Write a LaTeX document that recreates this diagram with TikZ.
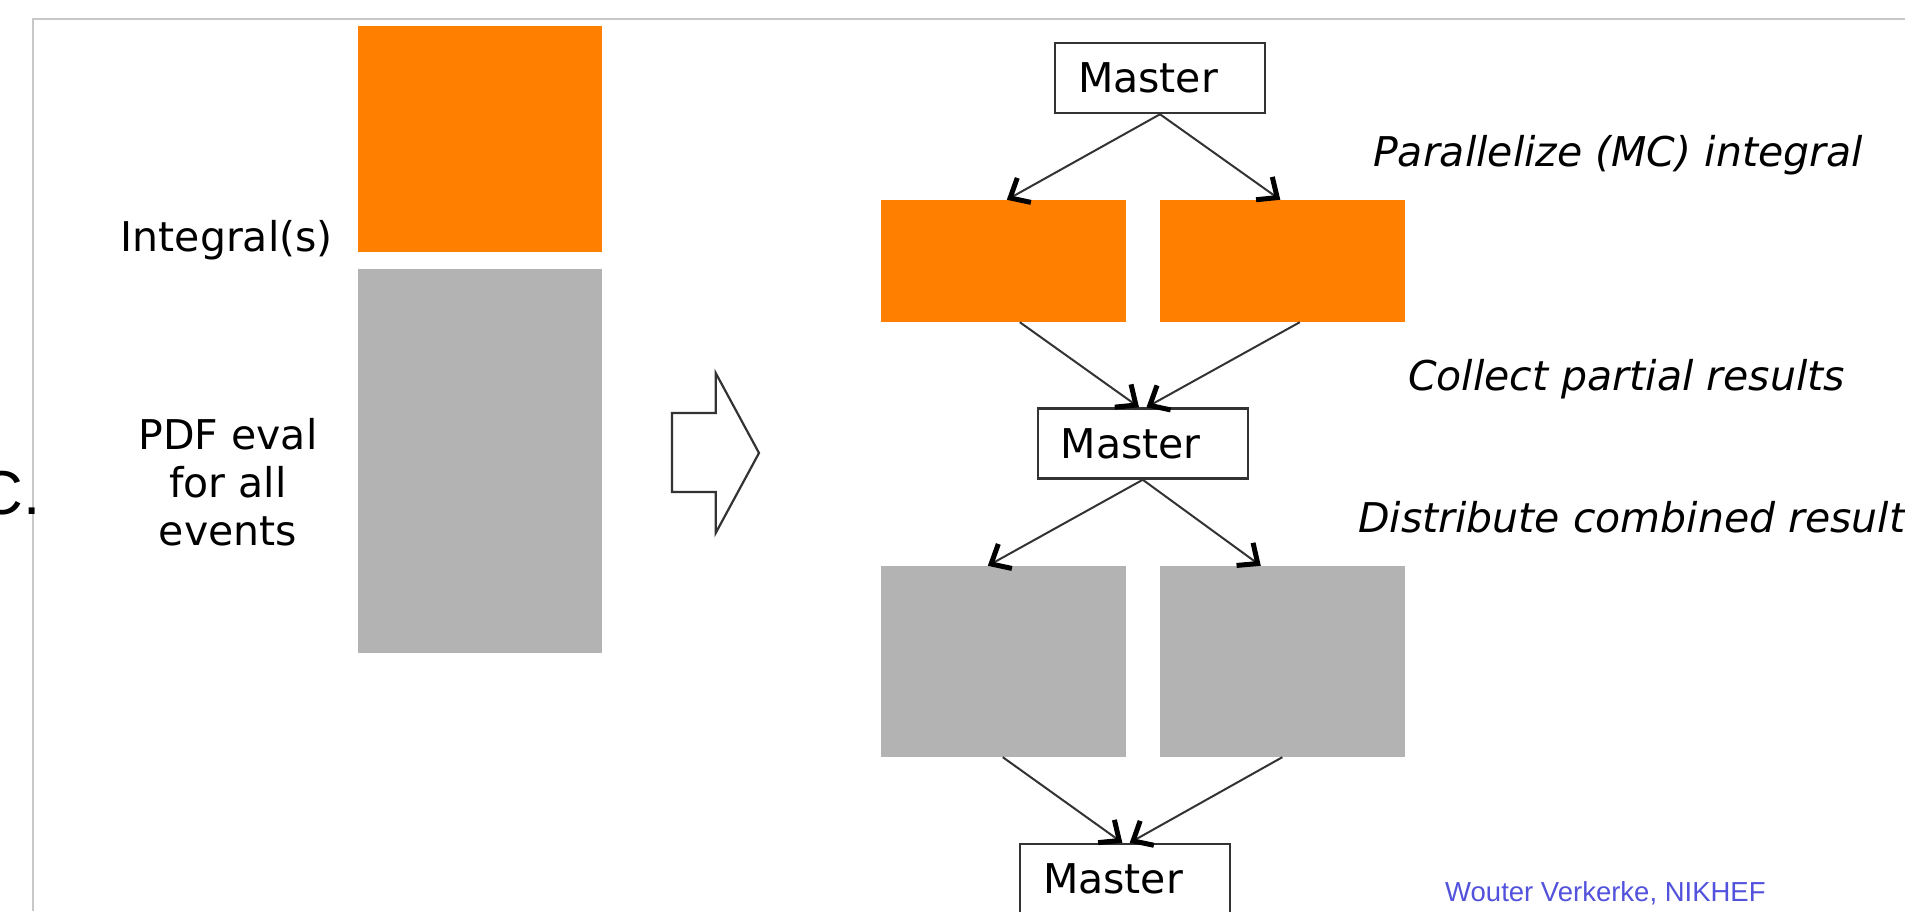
\documentclass[tikz,border=0pt]{standalone}
\usepackage{fontspec}
\setmainfont{DejaVu Sans}
\newfontfamily\creditfont{Liberation Sans}
\usetikzlibrary{arrows.meta,calc}
\definecolor{blockorange}{HTML}{FF7F00}
\definecolor{blockgray}{HTML}{B3B3B3}
\definecolor{framegray}{HTML}{C8C8C8}
\definecolor{inkgray}{HTML}{333333}
\definecolor{creditblue}{HTML}{5252DC}
\begin{document}
\begin{tikzpicture}[x=1pt,y=-1pt,
  txt/.style={inner sep=0pt,font=\fontsize{41}{48}\selectfont},
  steplabel/.style={inner sep=0pt,anchor=base west,font=\fontsize{41}{48}\selectfont\itshape},
  masterbox/.style={draw=inkgray,line width=2.5pt,fill=white,minimum width=210pt,minimum height=70pt,
    inner sep=0pt,text width=164pt,align=left,font=\fontsize{41}{48}\selectfont},
  orangeblock/.style={fill=blockorange,inner sep=0pt,minimum width=244.5pt},
  grayblock/.style={fill=blockgray,inner sep=0pt,minimum width=244.5pt},
  link/.style={draw=inkgray,line width=2pt,
    -{Straight Barb[length=16pt,width=28pt,line width=5pt,color=black]}}]
\useasboundingbox (0,0) rectangle (1905,911);
\clip (0,0) rectangle (1905,911);
\fill[white] (0,0) rectangle (1905,911);

% slide frame
\draw[framegray,line width=1.5pt] (33,911) -- (33,19) -- (1905,19);
\node[anchor=base east,inner sep=0pt,font=\creditfont\fontsize{62}{70}\selectfont] (cut) at (41,514) {C.};

% serial evaluation: one integral block above the event loop
\node[orangeblock,minimum width=243.5pt,minimum height=226.5pt] (intblk) at (479.75,138.75) {};
\node[grayblock,minimum width=243.5pt,minimum height=384pt] (evtblk) at (479.75,461) {};
\node[txt,anchor=base east] (intlbl) at (333,251) {Integral(s)};
\node[txt,anchor=base] (pdf1) at (228,449) {PDF eval};
\node[txt,anchor=base] (pdf2) at (228,497) {for all};
\node[txt,anchor=base] (pdf3) at (228,545) {events};

% hollow block arrow
\draw[inkgray,line width=2.2pt,line join=miter,fill=white]
  (672,413) -- (715.7,413) -- (715.7,373) -- (759,453) -- (715.7,533) -- (715.7,492) -- (672,492) -- cycle;

% parallel scheme
\node[masterbox] (m1) at (1160,78) {Master};
\node[orangeblock,minimum height=122pt] (o1) at (1003.25,261) {};
\node[orangeblock,minimum height=122pt] (o2) at (1282.25,261) {};
\node[masterbox] (m2) at (1142.75,443.5) {Master};
\node[grayblock,minimum height=191pt] (g1) at (1003.25,661.5) {};
\node[grayblock,minimum height=191pt] (g2) at (1282.25,661.5) {};
\node[masterbox] (m3) at (1125,879) {Master};

\draw[link] (m1.south) -- ($(o1.north west)+(126,0)$);
\draw[link] (m1.south) -- ($(o2.north west)+(120.5,0)$);
\draw[link] ($(o1.south west)+(139,0)$) -- ($(m2.north west)+(102.5,0)$);
\draw[link] ($(o2.south west)+(140,0)$) -- ($(m2.north west)+(110,0)$);
\draw[link] (m2.south) -- ($(g1.north west)+(107,0)$);
\draw[link] (m2.south) -- ($(g2.north west)+(101,0)$);
\draw[link] ($(g1.south west)+(122,0)$) -- ($(m3.north west)+(103.6,0)$);
\draw[link] ($(g2.south west)+(122.5,0)$) -- ($(m3.north west)+(111,0)$);

% step descriptions
\node[steplabel] (s1) at (1373,166) {Parallelize (MC) integral};
\node[steplabel] (s2) at (1408,390) {Collect partial results};
\node[steplabel] (s3) at (1358,532) {Distribute combined result};

\node[anchor=base west,inner sep=0pt,text=creditblue,font=\creditfont\fontsize{27.5}{33}\selectfont]
  (credit) at (1445,901) {Wouter Verkerke, NIKHEF};
\end{tikzpicture}
\end{document}
